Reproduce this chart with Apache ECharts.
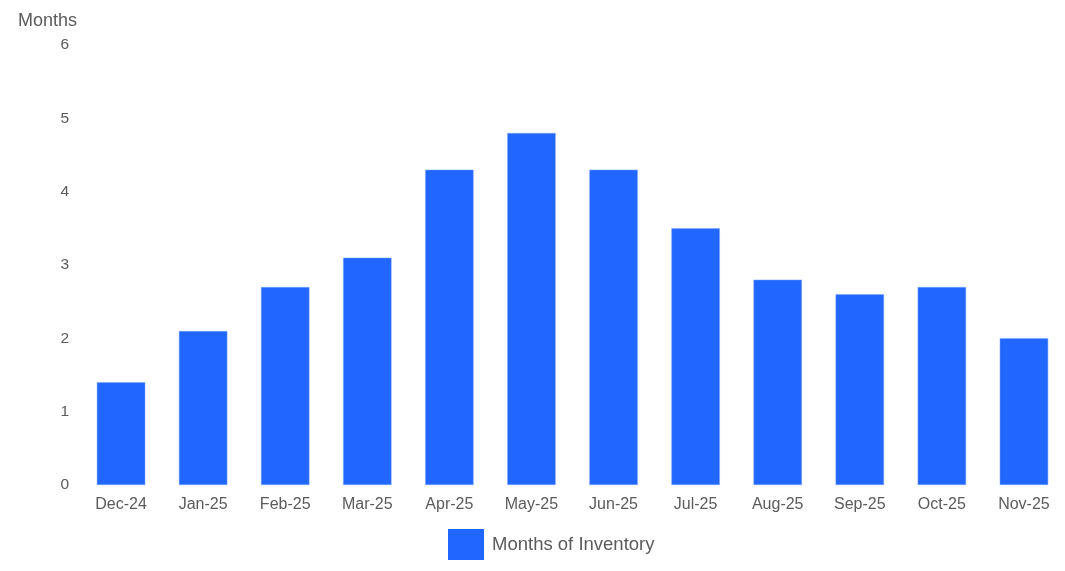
<!DOCTYPE html>
<html>
<head>
<meta charset="utf-8">
<script src="https://cdn.jsdelivr.net/npm/echarts@6/dist/echarts.min.js"></script>
<style>
html,body{margin:0;padding:0;background:#fff;}
#chart{width:1065px;height:571px;}
</style>
</head>
<body>
<div id="chart"></div>
<script>
const categories = ["Dec-24","Jan-25","Feb-25","Mar-25","Apr-25","May-25","Jun-25","Jul-25","Aug-25","Sep-25","Oct-25","Nov-25"];
const inventoryValues = [1.4, 2.1, 2.7, 3.1, 4.3, 4.8, 4.3, 3.5, 2.8, 2.6, 2.7, 2.0];
const seriesName = "Months of Inventory";
const yAxisName = "Months";

const FONT = '"Liberation Sans", Arial, sans-serif';
const chart = echarts.init(document.getElementById('chart'), null, {renderer: 'canvas'});
chart.setOption({
  animation: false,
  backgroundColor: '#ffffff',
  textStyle: {fontFamily: FONT},
  grid: {left: 80, right: -1, top: 45, bottom: 86, containLabel: false},
  legend: {
    data: [seriesName],
    top: 524,
    left: 443,
    itemWidth: 36,
    itemHeight: 31,
    icon: 'rect',
    itemStyle: {borderWidth: 0},
    textStyle: {fontSize: 18.5, color: '#5b5b5b', fontFamily: FONT, padding: [0, 0, 0, 3]}
  },
  xAxis: {
    type: 'category',
    data: categories,
    axisLine: {show: false},
    axisTick: {show: false},
    axisLabel: {color: '#5b5b5b', fontSize: 16, margin: 12, fontFamily: FONT}
  },
  yAxis: {
    type: 'value',
    min: 0,
    max: 6,
    interval: 1,
    name: yAxisName,
    nameLocation: 'end',
    nameGap: 15,
    nameTextStyle: {color: '#5b5b5b', fontSize: 18, align: 'right', padding: [0, 3, 0, 0], fontFamily: FONT},
    splitLine: {show: false},
    axisLine: {show: false},
    axisTick: {show: false},
    axisLabel: {color: '#5b5b5b', fontSize: 15.5, margin: 11, fontFamily: FONT}
  },
  series: [{
    name: seriesName,
    type: 'bar',
    data: inventoryValues,
    barWidth: '59%',
    itemStyle: {color: '#2166ff', borderColor: '#7ea6ff', borderWidth: 0.5}
  }]
});
</script>
</body>
</html>
